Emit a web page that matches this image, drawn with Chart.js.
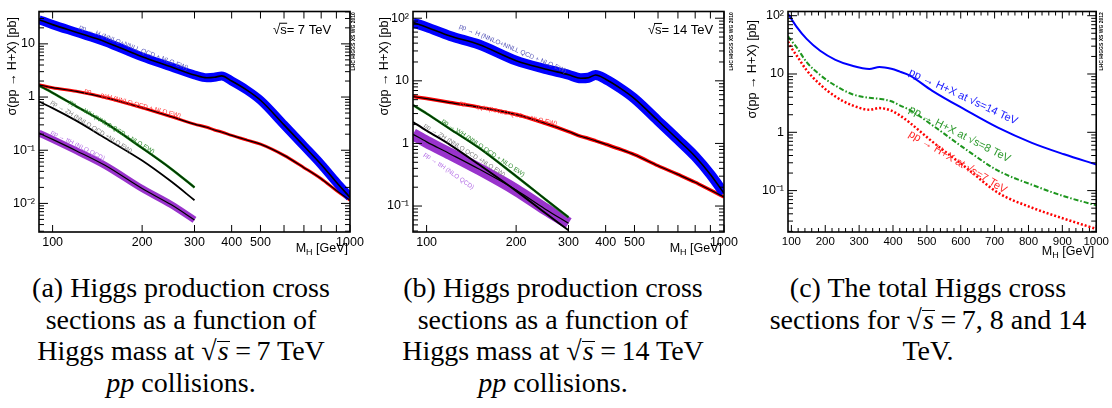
<!DOCTYPE html>
<html lang="en">
<head>
<meta charset="UTF-8">
<title>Higgs production cross sections</title>
<script src="https://cdn.jsdelivr.net/npm/chart.js@4.4.1/dist/chart.umd.min.js"></script>
<style>
  body { margin:0; background:#fff; width:1112px; height:408px; position:relative; overflow:hidden; }
  canvas { position:absolute; top:0; }
  .cap { position:absolute; top:272px; font-family:"Liberation Serif","DejaVu Serif",serif; font-size:28px; line-height:31.5px; text-align:center; color:#000; white-space:nowrap; }
  .ov { display:inline-block; border-top:1.4px solid #000; line-height:0.62; padding:0 1px; }
</style>
</head>
<body>
<canvas id="ca" width="372" height="262" style="left:0"></canvas>
<canvas id="cb" width="370" height="262" style="left:372px"></canvas>
<canvas id="cc" width="370" height="262" style="left:742px"></canvas>

<div class="cap" style="left:0;width:362px">(a) Higgs production cross<br>sections as a function of<br>Higgs mass at √<i class="ov">s</i>&thinsp;=&thinsp;7 TeV<br><i>pp</i> collisions.</div>
<div class="cap" style="left:373px;width:360px">(b) Higgs production cross<br>sections as a function of<br>Higgs mass at √<i class="ov">s</i>&thinsp;=&thinsp;14 TeV<br><i>pp</i> collisions.</div>
<div class="cap" style="left:748px;width:360px">(c) The total Higgs cross<br>sections for √<i class="ov">s</i>&thinsp;=&thinsp;7, 8 and 14<br>TeV.</div>

<script>
// Higgs mass points (GeV)
const massFull = [90,100,120,150,200,250,300,330,350,370,400,450,500,600,700,800,900,1000];
const massLow  = [90,100,120,150,200,250,300];

// sqrt(s) = 7 TeV, cross sections in pb
const ggH7 = [28.5,23,16.5,11,5.7,3.7,2.6,2.3,2.35,2.5,2.0,1.35,0.87,0.30,0.12,0.054,0.025,0.013];
const qqH7 = [1.7,1.5,1.28,0.98,0.63,0.43,0.31,0.27,0.24,0.22,0.19,0.155,0.13,0.08,0.047,0.029,0.0175,0.0115];
const WH7  = [1.65,1.2,0.67,0.33,0.11,0.045,0.020];
const ZH7  = [0.82,0.62,0.36,0.17,0.064,0.026,0.0115];
const ttH7 = [0.21,0.16,0.098,0.052,0.019,0.0095,0.0049];

// sqrt(s) = 14 TeV
const ggH14 = [85,72,52,38,21,15.5,12.5,11.0,11.2,12.4,10.6,7.5,5.2,2.3,1.15,0.62,0.32,0.16];
const qqH14 = [5.6,5.2,4.5,3.8,2.9,2.1,1.55,1.3,1.2,1.1,0.97,0.8,0.66,0.44,0.32,0.24,0.18,0.14];
const WH14  = [4.1,3.0,1.7,0.85,0.30,0.13,0.066];
const ZH14  = [2.2,1.6,0.95,0.46,0.175,0.078,0.041];
const ttH14 = [1.4,1.06,0.68,0.39,0.18,0.09,0.053];

// total cross sections
const massTot = [90,100,115,145,185,230,280,330,360,395,420,450,515,615,710,810,905,1000];
const tot14 = [108,88,65,40,25,17.5,13.8,12.2,13.2,12.3,11.0,9.4,5.2,2.4,1.2,0.66,0.42,0.28];
const tot8  = [44,37,29,16,9.6,6.3,4.5,3.9,3.75,3.4,2.9,2.4,1.34,0.51,0.22,0.126,0.080,0.056];
const tot7  = [36,28,21,11.6,6.6,4.1,2.9,2.44,2.6,2.35,1.95,1.45,0.70,0.25,0.092,0.051,0.033,0.022];

// axis ticks
const logLabelsX = [100,200,300,400,500,1000];
const logTicksX  = [100,200,300,400,500,600,700,800,900,1000];
const linLabelsX = [100,200,300,400,500,600,700,800,900,1000];
const yLabelsA = [0.01,0.1,1,10];
const yLabelsB = [0.1,1,10,100];
const yLabelsC = [0.1,1,10,100];

const SANS = '"Liberation Sans", Arial, sans-serif';
const pts = (xs, ys) => xs.map((x, i) => ({x: x, y: ys[i]}));
const pow10 = v => ({0.01:'10⁻²', 0.1:'10⁻¹', 1:'1', 10:'10', 100:'10²'})[v] || '';

function curve(xs, ys, color, width, order, dash) {
  return { data: pts(xs, ys), borderColor: color, borderWidth: width, order: order,
           borderDash: dash || [], fill: false, clip: 0, pointRadius: 0,
           cubicInterpolationMode: 'monotone' };
}

function minorLog(min, max) {
  const out = [];
  for (let d = Math.floor(Math.log10(min)); d <= Math.ceil(Math.log10(max)); d++)
    for (let k = 2; k <= 9; k++) { const v = k * Math.pow(10, d); if (v > min && v < max) out.push(v); }
  return out;
}

function framePlugin(cfg) {
  return {
    id: 'frame',
    afterDraw(chart) {
      const ctx = chart.ctx, a = chart.chartArea, x = chart.scales.x, y = chart.scales.y;
      ctx.save();
      ctx.strokeStyle = '#000';
      ctx.lineWidth = 1;
      const seg = (x1, y1, x2, y2) => { ctx.beginPath(); ctx.moveTo(x1, y1); ctx.lineTo(x2, y2); ctx.stroke(); };
      cfg.xTicks.forEach(v => { const p = x.getPixelForValue(v); seg(p, a.bottom, p, a.bottom - 7); seg(p, a.top, p, a.top + 7); });
      (cfg.xMinor || []).forEach(v => { const p = x.getPixelForValue(v); seg(p, a.bottom, p, a.bottom - 4); seg(p, a.top, p, a.top + 4); });
      cfg.yLabels.forEach(v => { const p = y.getPixelForValue(v); seg(a.left, p, a.left + 9, p); seg(a.right, p, a.right - 9, p); });
      minorLog(cfg.yMin, cfg.yMax).forEach(v => { const p = y.getPixelForValue(v); seg(a.left, p, a.left + 5, p); seg(a.right, p, a.right - 5, p); });
      ctx.lineWidth = 1.6;
      ctx.strokeRect(a.left, a.top, a.right - a.left, a.bottom - a.top);

      // curve annotations
      cfg.notes.forEach(n => {
        ctx.save();
        ctx.translate(x.getPixelForValue(n.m), y.getPixelForValue(n.v));
        ctx.rotate(n.angle * Math.PI / 180);
        ctx.font = n.size + 'px ' + SANS;
        ctx.fillStyle = n.color;
        ctx.textBaseline = 'middle';
        ctx.fillText(n.text, 0, 0);
        ctx.restore();
      });

      // sqrt(s) label
      if (cfg.energy) {
        const e = cfg.energy;
        ctx.font = '13px ' + SANS;
        ctx.fillStyle = '#000';
        ctx.textBaseline = 'alphabetic';
        let px = x.getPixelForValue(e.m), py = y.getPixelForValue(e.v);
        const wr = ctx.measureText('√').width, ws = ctx.measureText('s').width;
        ctx.fillText('√s= ' + e.text, px, py);
        ctx.lineWidth = 1;
        seg(px + wr - 1, py - 10.5, px + wr + ws + 0.5, py - 10.5);
      }

      // watermark
      ctx.save();
      ctx.translate(a.right + cfg.wmDx, a.top + 59);
      ctx.rotate(-Math.PI / 2);
      ctx.font = 'bold 5px ' + SANS;
      ctx.fillStyle = '#000';
      ctx.textBaseline = 'middle';
      ctx.fillText(cfg.wm, 0, 0);
      ctx.restore();

      // y title
      ctx.save();
      ctx.translate(cfg.yTitleX, cfg.yTitleTop);
      ctx.rotate(-Math.PI / 2);
      ctx.font = '12.5px ' + SANS;
      ctx.fillStyle = '#000';
      ctx.textAlign = 'right';
      ctx.textBaseline = 'middle';
      ctx.fillText('σ(pp → H+X) [pb]', 0, 0);
      ctx.restore();

      // x title M_H [GeV]
      ctx.fillStyle = '#000';
      ctx.textBaseline = 'alphabetic';
      ctx.font = '12.5px ' + SANS;
      const t1 = ' [GeV]', wM = ctx.measureText('M').width, wT = ctx.measureText(t1).width;
      ctx.font = '9px ' + SANS;
      const wH = ctx.measureText('H').width;
      let ex = a.right - 2, by = cfg.xTitleY;
      ctx.font = '12.5px ' + SANS;
      ctx.fillText(t1, ex - wT, by);
      ctx.fillText('M', ex - wT - wH - wM, by);
      ctx.font = '9px ' + SANS;
      ctx.fillText('H', ex - wT - wH, by + 3);
      ctx.restore();
    }
  };
}

function makeChart(id, cfg) {
  return new Chart(document.getElementById(id), {
    type: 'line',
    data: { datasets: cfg.datasets },
    options: {
      responsive: false, animation: false, events: [],
      layout: { padding: { left: 0, top: cfg.top, right: cfg.right, bottom: 0 } },
      plugins: { legend: { display: false }, tooltip: { enabled: false } },
      scales: {
        x: {
          type: cfg.xType, min: 90, max: 1000,
          afterBuildTicks: s => { s.ticks = cfg.xLabels.map(v => ({value: v})); },
          afterFit: s => { s.height = 30; },
          grid: { display: false, drawTicks: false }, border: { display: false },
          ticks: { autoSkip: false, maxRotation: 0, padding: 3, color: '#000',
                   font: { family: SANS, size: cfg.xFont }, callback: v => String(v) }
        },
        y: {
          type: 'logarithmic', min: cfg.yMin, max: cfg.yMax,
          afterBuildTicks: s => { s.ticks = cfg.yLabels.map(v => ({value: v})); },
          afterFit: s => { s.width = cfg.yW; },
          grid: { display: false, drawTicks: false }, border: { display: false },
          ticks: { autoSkip: false, padding: 4, color: '#000',
                   font: { family: SANS, size: 12.5 }, callback: v => pow10(v) }
        }
      }
    },
    plugins: [framePlugin(cfg)]
  });
}

// (a) 7 TeV
makeChart('ca', {
  xType: 'logarithmic', xLabels: logLabelsX, xTicks: logTicksX, xFont: 12.5,
  yMin: 0.0029, yMax: 40.6, yLabels: yLabelsA, yW: 39, top: 3, right: 22,
  yTitleX: 13, yTitleTop: 17, xTitleY: 252, wm: 'LHC HIGGS XS WG 2010', wmDx: 3.5,
  energy: { m: 551, v: 15.5, text: '7 TeV' },
  notes: [
    { text: 'pp → H (NNLO+NNLL QCD + NLO EW)', m: 123, v: 21, angle: 21, size: 6.5, color: '#5656b8' },
    { text: 'pp → qqH (NNLO QCD + NLO EW)', m: 128, v: 1.33, angle: 15, size: 6.3, color: '#ff2a2a' },
    { text: 'pp → WH (NNLO QCD + NLO EW)', m: 114, v: 0.82, angle: 31, size: 6.3, color: '#2e8b2e' },
    { text: 'pp → ZH (NNLO QCD +NLO EW)', m: 99, v: 0.82, angle: 32, size: 6.3, color: '#808080' },
    { text: 'pp → ttH (NLO QCD)', m: 99, v: 0.22, angle: 27, size: 6.3, color: '#b46ee6' }
  ],
  datasets: [
    curve(massFull, ggH7, '#000', 1.6, 0), curve(massFull, ggH7, '#0000ff', 9, 2),
    curve(massFull, qqH7, '#000', 1.2, 0), curve(massFull, qqH7, '#ff0000', 3, 2),
    curve(massLow, WH7, '#003300', 1.5, 0), curve(massLow, WH7, '#228b22', 2.5, 2),
    curve(massLow, ZH7, '#000', 1.8, 0),
    curve(massLow, ttH7, '#000', 1.2, 0), curve(massLow, ttH7, '#9933cc', 7, 2)
  ]
});

// (b) 14 TeV
makeChart('cb', {
  xType: 'logarithmic', xLabels: logLabelsX, xTicks: logTicksX, xFont: 12.5,
  yMin: 0.0385, yMax: 128, yLabels: yLabelsB, yW: 41, top: 3, right: 18,
  yTitleX: 13, yTitleTop: 17, xTitleY: 252, wm: 'LHC HIGGS XS WG 2010', wmDx: 7.5,
  energy: { m: 555, v: 56, text: '14 TeV' },
  notes: [
    { text: 'pp → H (NNLO+NNLL QCD + NLO EW)', m: 129, v: 75, angle: 23, size: 6.5, color: '#5656b8' },
    { text: 'pp → qqH (NNLO QCD + NLO EW)', m: 129, v: 4.4, angle: 12, size: 6.3, color: '#ff2a2a' },
    { text: 'pp → WH (NNLO QCD + NLO EW)', m: 113, v: 2.34, angle: 34, size: 6.3, color: '#2e8b2e' },
    { text: 'pp → ZH (NNLO QCD +NLO EW)', m: 98.4, v: 1.96, angle: 32, size: 6.3, color: '#808080' },
    { text: 'pp → ttH (NLO QCD)', m: 98.4, v: 0.68, angle: 35, size: 6.3, color: '#b46ee6' }
  ],
  datasets: [
    curve(massFull, ggH14, '#000', 1.6, 0), curve(massFull, ggH14, '#0000ff', 10, 2),
    curve(massFull, qqH14, '#000', 1.2, 0), curve(massFull, qqH14, '#ff0000', 3.5, 2),
    curve(massLow, WH14, '#003300', 1.5, 0), curve(massLow, WH14, '#228b22', 2.5, 2),
    curve(massLow, ZH14, '#000', 2, 0),
    curve(massLow, ttH14, '#000', 1.2, 0), curve(massLow, ttH14, '#9933cc', 12, 2)
  ]
});

// (c) totals
makeChart('cc', {
  xType: 'linear', xLabels: linLabelsX, xTicks: linLabelsX, xMinor: [120,140,160,180,220,240,260,280,320,340,360,380,420,440,460,480,520,540,560,580,620,640,660,680,720,740,760,780,820,840,860,880,920,940,960,980],
  xFont: 11.5,
  yMin: 0.0195, yMax: 118, yLabels: yLabelsC, yW: 46, top: 5, right: 14,
  yTitleX: 11, yTitleTop: 20, xTitleY: 255, wm: 'LHC HIGGS XS WG 2012', wmDx: 5,
  notes: [
    { text: 'pp → H+X at √s=14 TeV', m: 449, v: 10.9, angle: 25, size: 11, color: '#1a1aff' },
    { text: 'pp → H+X at √s=8 TeV', m: 449, v: 2.54, angle: 27, size: 11, color: '#2e9a2e' },
    { text: 'pp → H+X at √s=7 TeV', m: 449, v: 0.97, angle: 31, size: 11, color: '#ff2a2a' }
  ],
  datasets: [
    curve(massTot, tot14, '#0000ff', 2, 0),
    curve(massTot, tot8, '#1e961e', 2, 0, [5, 2, 1.5, 2]),
    curve(massTot, tot7, '#ff0000', 2.5, 0, [2, 2])
  ]
});
</script>
</body>
</html>
